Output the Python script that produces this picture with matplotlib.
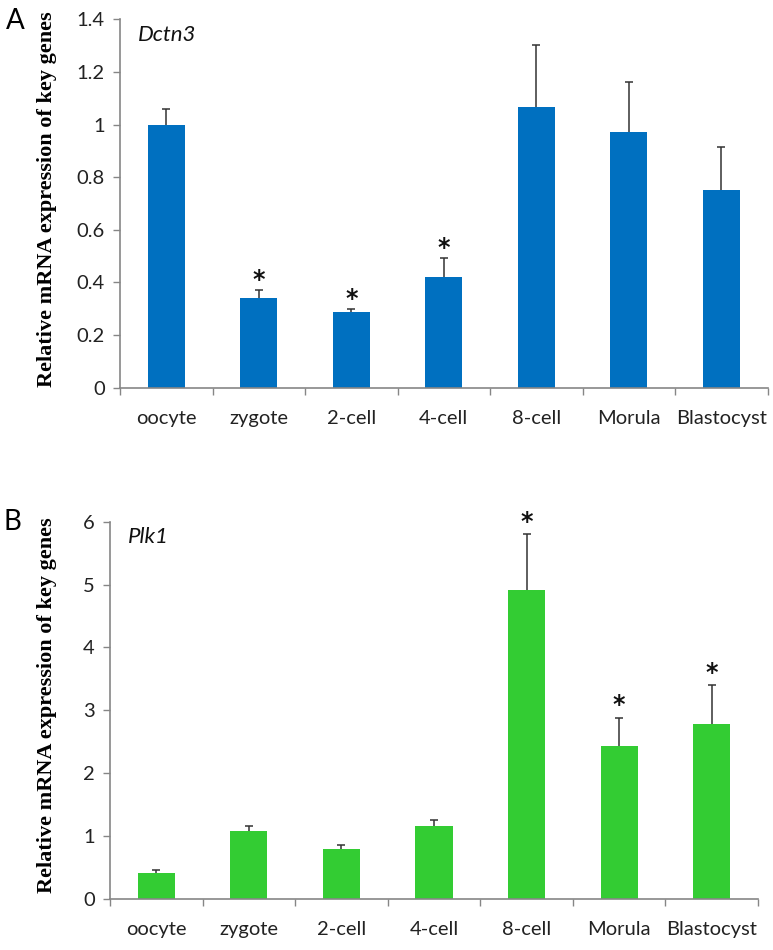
import matplotlib
matplotlib.use("Agg")
import matplotlib.pyplot as plt
import numpy as np

categories = ["oocyte", "zygote", "2-cell", "4-cell", "8-cell", "Morula", "Blastocyst"]

dctn3_values = [1.00, 0.342, 0.289, 0.422, 1.066, 0.973, 0.751]
dctn3_err = [0.058, 0.031, 0.011, 0.070, 0.237, 0.189, 0.163]
dctn3_sig = [False, True, True, True, False, False, False]

plk1_values = [0.42, 1.08, 0.795, 1.16, 4.91, 2.43, 2.78]
plk1_err = [0.036, 0.08, 0.065, 0.10, 0.89, 0.45, 0.62]
plk1_sig = [False, False, False, False, True, True, True]

yticks_a = [0, 0.2, 0.4, 0.6, 0.8, 1.0, 1.2, 1.4]
ytick_labels_a = ["0", "0.2", "0.4", "0.6", "0.8", "1", "1.2", "1.4"]
yticks_b = [0, 1, 2, 3, 4, 5, 6]
ytick_labels_b = ["0", "1", "2", "3", "4", "5", "6"]

ylabel = "Relative mRNA expression of key genes"
tick_font = "Lato"
spine_color = "#868686"

fig = plt.figure(figsize=(7.73, 9.5), dpi=100)

def panel(rect, values, errs, sig, color, yticks, yticklabels, ymax, gene, star_off):
    ax = fig.add_axes(rect)
    x = np.arange(len(categories))
    ax.bar(x, values, width=0.4, color=color, zorder=3)
    eb = ax.errorbar(x, values, yerr=[np.zeros(len(errs)), errs], fmt="none",
                     ecolor="#333333", elinewidth=1.1, capsize=3, capthick=1.1, zorder=2)
    caplines = eb[1]
    if len(caplines) == 2:
        caplines[0].set_visible(False)
    for xi, v, e, s in zip(x, values, errs, sig):
        if s:
            ax.text(xi, v + e + star_off, "*", ha="center", va="center",
                    fontsize=17, color="#111111", family="DejaVu Sans", weight="bold")
    ax.set_xlim(-0.5, len(categories) - 0.5)
    ax.set_ylim(0, ymax)
    ax.set_yticks(yticks)
    ax.set_yticklabels(yticklabels, family=tick_font, fontsize=14.5, color="#222222")
    ax.set_xticks(x)
    ax.set_xticklabels(categories, family=tick_font, fontsize=14.5, color="#222222")
    ax.set_xticks(np.arange(-0.5, len(categories)), minor=True)
    ax.tick_params(axis="x", which="major", length=0, pad=16)
    ax.tick_params(axis="x", which="minor", length=5, width=1, color=spine_color)
    ax.tick_params(axis="y", length=5, width=1, color=spine_color, pad=6)
    for sp in ["top", "right"]:
        ax.spines[sp].set_visible(False)
    for sp in ["left", "bottom"]:
        ax.spines[sp].set_color(spine_color)
        ax.spines[sp].set_linewidth(1.2)
        ax.spines[sp].set_zorder(4)
    ax.text(0.027, 0.985, gene, transform=ax.transAxes, style="italic",
            family=tick_font, fontsize=16, va="top", ha="left", color="#111111")
    return ax

axA = panel([0.1552, 0.5919, 0.838, 0.3876], dctn3_values, dctn3_err, dctn3_sig,
            "#0070C0", yticks_a, ytick_labels_a, 1.4, "Dctn3", 0.038)
axB = panel([0.1423, 0.0537, 0.8383, 0.3971], plk1_values, plk1_err, plk1_sig,
            "#33CC33", yticks_b, ytick_labels_b, 6, "Plk1", 0.2)

fig.text(0.061, 0.790, ylabel, rotation=90, ha="center", va="center",
         family="Liberation Serif", weight="bold", fontsize=16)
fig.text(0.061, 0.258, ylabel, rotation=90, ha="center", va="center",
         family="Liberation Serif", weight="bold", fontsize=16)

fig.text(0.008, 0.978, "A", family=tick_font, fontsize=20, ha="left", va="center")
fig.text(0.005, 0.450, "B", family=tick_font, fontsize=20, ha="left", va="center")

fig.savefig("out.png", dpi=100)
